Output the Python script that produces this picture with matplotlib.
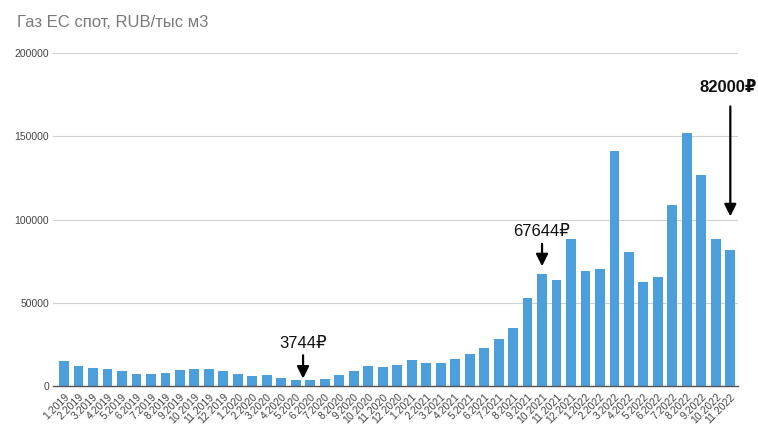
import matplotlib
matplotlib.use('Agg')
from matplotlib import pyplot as plt
import numpy as np

months = [f'{m}.{y}' for y in (2019, 2020, 2021, 2022) for m in range(1, 13)][:47]

prices = [15000, 12000, 10800, 10200, 9000, 7200, 7500, 8000, 9600, 10500, 10500, 9200,
          7500, 6200, 6500, 5000, 3500, 3744, 4200, 6500, 9000, 12000, 11400, 12600,
          15600, 13800, 13800, 16000, 19300, 22800, 28200, 34800, 52800, 67644, 63600, 88300,
          69000, 70300, 141500, 80500, 62500, 65500, 108700, 152000, 127000, 88300, 82000]

yticks = [0, 50000, 100000, 150000, 200000]

# (arrow x, text x, value text, text y, arrow start y, arrow end y, bold)
notes = [(16.5, 16.5, '3744₽', 25500, 18500, 4500, False),
         (33, 33, '67644₽', 93000, 85500, 72000, False),
         (46, 45.85, '82000₽', 179500, 168000, 102000, True)]

plt.rcParams['font.family'] = ['Liberation Sans', 'DejaVu Sans']

fig = plt.figure(figsize=(7.58, 4.29), dpi=100)
ax = fig.add_axes([0.070, 0.100, 0.904, 0.776])

x = np.arange(len(months))
ax.bar(x, prices, width=0.68, color='#4d9fdc', zorder=2)

ax.set_xlim(-0.76, len(months) - 0.45)
ax.set_ylim(0, 200000)
ax.set_yticks(yticks)
ax.set_yticklabels([str(v) for v in yticks], fontsize=7.5, color='#444444')
ax.set_xticks(x)
ax.set_xticklabels(months, rotation=45, ha='right', rotation_mode='anchor',
                   fontsize=7.5, color='#444444')
ax.tick_params(axis='both', length=0, pad=3)
ax.tick_params(axis='x', pad=4)

ax.grid(axis='y', color='#d0d0d0', linewidth=0.8, zorder=0)
for s in ['top', 'right', 'left']:
    ax.spines[s].set_visible(False)
ax.spines['bottom'].set_color('#555555')
ax.spines['bottom'].set_linewidth(1)

for ax_x, tx, txt, ty, y0, y1, bold in notes:
    ax.text(tx, ty, txt, ha='center', va='center', color='#111111',
            fontsize=12, weight='bold' if bold else 'normal')
    ax.annotate('', xy=(ax_x, y1), xytext=(ax_x, y0),
                arrowprops=dict(arrowstyle='-|>', color='black', lw=1.6,
                                mutation_scale=18, shrinkA=0, shrinkB=0))

fig.text(0.022, 0.948, 'Газ ЕС спот, RUB/тыс м3', fontsize=12, color='#7a7a7a',
         ha='left', va='center')

fig.savefig('out.png', dpi=100)
